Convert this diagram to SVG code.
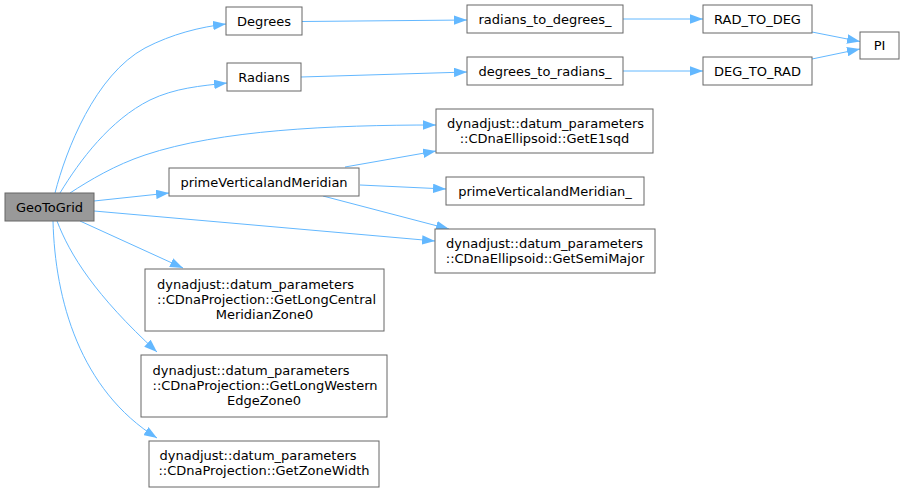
<svg xmlns="http://www.w3.org/2000/svg" width="904" height="491" viewBox="0 0 904 491">
<style>
.n rect{fill:#ffffff;stroke:#666666;stroke-width:1}
#GeoToGrid rect{fill:#999999}
text{font-family:"DejaVu Sans","Liberation Sans",sans-serif;font-size:13px;fill:#000000}
.m{text-anchor:middle}
.s{text-anchor:start}
#edges path{fill:none;stroke:#63b8ff;stroke-width:1;marker-end:url(#ah)}
</style>
<defs>
<marker id="ah" viewBox="0 0 13 9.5" refX="13" refY="4.75" markerWidth="13" markerHeight="9.5" markerUnits="userSpaceOnUse" orient="auto">
<polygon points="0,0 13,4.75 0,9.5" fill="#63b8ff"/>
</marker>
</defs>
<rect width="904" height="491" fill="#ffffff"/>
<g id="edges">
<path d="M55,193 C66,150 95,75 145,48 C172,34 200,27 226,24"/>
<path d="M60,193 C80,160 110,120 150,100 C175,88 200,86 227,83"/>
<path d="M70,193 C90,180 115,165 145,155 C220,130 330,125 436,125"/>
<path d="M94,201 L169,193"/>
<path d="M94,211 L435,241"/>
<path d="M80,221 L183,268"/>
<path d="M57,221 C70,255 95,295 157,352"/>
<path d="M53,221 C55,300 80,390 157,438"/>
<path d="M302,21.5 L467,20"/>
<path d="M301,77 L467,72"/>
<path d="M623,19 L703,19"/>
<path d="M623,71 L703,71"/>
<path d="M812,32 L860,41.5"/>
<path d="M812,59 L860,49"/>
<path d="M345,167 L436,151"/>
<path d="M360,185 L446,189"/>
<path d="M323,196 L449,229"/>
</g>
<g id="GeoToGrid" class="n"><rect x="5" y="193" width="89" height="28"/><text class="m" x="49.5" y="211.5">GeoToGrid</text></g>
<g id="Degrees" class="n"><rect x="226" y="7" width="76" height="28"/><text class="m" x="264" y="25.5">Degrees</text></g>
<g id="Radians" class="n"><rect x="227" y="63" width="74" height="28"/><text class="m" x="264" y="81.5">Radians</text></g>
<g id="radians_to_degrees_" class="n"><rect x="467" y="5" width="156" height="28"/><text class="m" x="545" y="23.5">radians_to_degrees_</text></g>
<g id="degrees_to_radians_" class="n"><rect x="467" y="57" width="156" height="28"/><text class="m" x="545" y="75.5">degrees_to_radians_</text></g>
<g id="RAD_TO_DEG" class="n"><rect x="703" y="5" width="109" height="28"/><text class="m" x="757.5" y="23.5">RAD_TO_DEG</text></g>
<g id="DEG_TO_RAD" class="n"><rect x="703" y="57" width="109" height="28"/><text class="m" x="757.5" y="75.5">DEG_TO_RAD</text></g>
<g id="PI" class="n"><rect x="860" y="32" width="39" height="27"/><text class="m" x="879.5" y="50">PI</text></g>
<g id="GetE1sqd" class="n"><rect x="436" y="109" width="217" height="44"/><text class="s" x="447" y="127.5">dynadjust::datum_parameters</text><text class="m" x="544.5" y="142.5">::CDnaEllipsoid::GetE1sqd</text></g>
<g id="primeVerticalandMeridian" class="n"><rect x="169" y="168" width="190" height="28"/><text class="m" x="264" y="186.5">primeVerticalandMeridian</text></g>
<g id="primeVerticalandMeridian_" class="n"><rect x="446" y="177" width="198" height="28"/><text class="m" x="545" y="195.5">primeVerticalandMeridian_</text></g>
<g id="GetSemiMajor" class="n"><rect x="435" y="229" width="220" height="44"/><text class="s" x="446" y="247.5">dynadjust::datum_parameters</text><text class="m" x="545" y="262.5">::CDnaEllipsoid::GetSemiMajor</text></g>
<g id="GetLongCentralMeridianZone0" class="n"><rect x="145" y="269" width="239" height="62"/><text class="s" x="157" y="289">dynadjust::datum_parameters</text><text class="s" x="157" y="304">::CDnaProjection::GetLongCentral</text><text class="m" x="264.5" y="319">MeridianZone0</text></g>
<g id="GetLongWesternEdgeZone0" class="n"><rect x="141" y="355" width="246" height="62"/><text class="s" x="152.5" y="375">dynadjust::datum_parameters</text><text class="s" x="152.5" y="390">::CDnaProjection::GetLongWestern</text><text class="m" x="264" y="405">EdgeZone0</text></g>
<g id="GetZoneWidth" class="n"><rect x="149" y="441" width="230" height="46"/><text class="s" x="159.5" y="460">dynadjust::datum_parameters</text><text class="m" x="264" y="475">::CDnaProjection::GetZoneWidth</text></g>
</svg>
